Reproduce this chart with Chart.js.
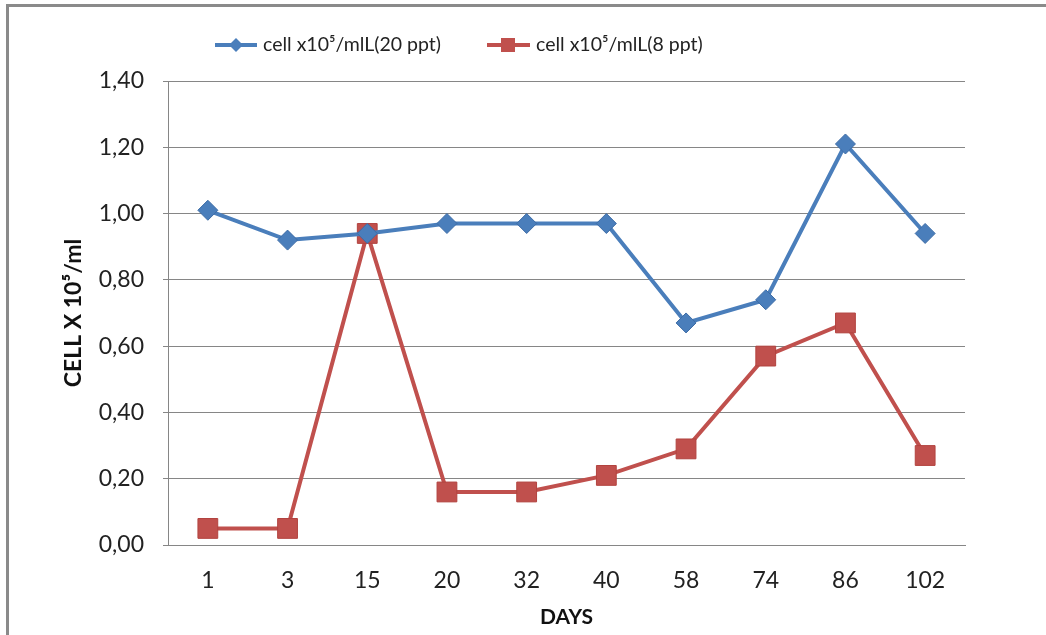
<!DOCTYPE html>
<html>
<head>
<meta charset="utf-8">
<script src="https://cdn.jsdelivr.net/npm/chart.js@4"></script>
<style>
  html, body { margin: 0; padding: 0; background: #fff; }
  #wrap { width: 1046px; height: 635px; }
</style>
</head>
<body>
<div id="wrap"><canvas id="chart" width="1046" height="635"></canvas></div>
<script>
// chart data
var days = ['1', '3', '15', '20', '32', '40', '58', '74', '86', '102'];
var cells20 = [1.01, 0.92, 0.94, 0.97, 0.97, 0.97, 0.67, 0.74, 1.21, 0.94];
var cells8 = [0.05, 0.05, 0.94, 0.16, 0.16, 0.21, 0.29, 0.57, 0.67, 0.27];
var seriesNames = ['cell x10\u2075/mlL(20 ppt)', 'cell x10\u2075/mlL(8 ppt)'];

var FONT = 'Lato, "Open Sans", sans-serif';
var BLUE = '#4a7ebb', BLUE_EDGE = '#3d6ca6';
var RED = '#c0504d', RED_EDGE = '#b2433f';

// frame + legend drawn by hand, excel style
var excelBits = {
  id: 'excelBits',
  afterDraw: function(chart) {
    var ctx = chart.ctx;
    ctx.save();
    ctx.strokeStyle = '#8a8a8a';
    ctx.lineWidth = 3;
    ctx.beginPath();
    ctx.moveTo(7.5, 635);
    ctx.lineTo(7.5, 5.5);
    ctx.lineTo(1046, 5.5);
    ctx.stroke();

    // legend
    var y = 45;
    ctx.font = '19.5px ' + FONT;
    ctx.fillStyle = '#222';
    ctx.textBaseline = 'middle';

    ctx.strokeStyle = BLUE; ctx.lineWidth = 4;
    ctx.beginPath(); ctx.moveTo(215, y); ctx.lineTo(257, y); ctx.stroke();
    ctx.fillStyle = BLUE;
    ctx.beginPath();
    ctx.moveTo(236, y - 7); ctx.lineTo(243, y); ctx.lineTo(236, y + 7); ctx.lineTo(229, y);
    ctx.closePath(); ctx.fill();
    ctx.fillStyle = '#222';
    ctx.fillText(seriesNames[0], 263, y);

    ctx.strokeStyle = RED;
    ctx.beginPath(); ctx.moveTo(487, y); ctx.lineTo(530, y); ctx.stroke();
    ctx.fillStyle = RED;
    ctx.fillRect(501, y - 7, 14, 14);
    ctx.fillStyle = '#222';
    ctx.fillText(seriesNames[1], 536, y);
    ctx.restore();
  }
};

var ctx = document.getElementById('chart').getContext('2d');
var myChart = new Chart(ctx, {
  type: 'line',
  data: {
    labels: days,
    datasets: [
      {
        label: seriesNames[0],
        data: cells20,
        borderColor: BLUE,
        borderWidth: 4,
        pointStyle: 'rectRot',
        pointRadius: 10,
        pointBackgroundColor: BLUE,
        pointBorderColor: BLUE_EDGE,
        pointBorderWidth: 1,
        tension: 0
      },
      {
        label: seriesNames[1],
        data: cells8,
        borderColor: RED,
        borderWidth: 4,
        pointStyle: 'rect',
        pointRadius: 14,
        pointBackgroundColor: RED,
        pointBorderColor: RED_EDGE,
        pointBorderWidth: 1,
        tension: 0
      }
    ]
  },
  options: {
    responsive: false,
    animation: false,
    layout: { padding: { left: 40, top: 81, right: 81, bottom: 0 } },
    plugins: {
      legend: { display: false },
      tooltip: { enabled: false }
    },
    scales: {
      x: {
        offset: true,
        grid: { display: false, drawTicks: false },
        border: { display: true, color: '#868686', width: 1 },
        ticks: { padding: 22, color: '#222', font: { family: FONT, size: 23 } },
        title: {
          display: true, text: 'DAYS', color: '#111',
          font: { family: FONT, size: 21, weight: 'bold' },
          padding: { top: 0, bottom: 5 }
        },
        afterFit: function(s) { s.height = 90; }
      },
      y: {
        min: 0, max: 1.4,
        ticks: {
          stepSize: 0.2, padding: 19, color: '#222',
          font: { family: FONT, size: 23 },
          callback: function(v) { return v.toFixed(2).replace('.', ','); }
        },
        grid: { color: '#868686', lineWidth: 1, tickLength: 5, drawTicks: true },
        border: { display: true, color: '#868686', width: 1 },
        title: {
          display: true, text: 'CELL X 10\u2075/ml', color: '#111',
          font: { family: FONT, size: 23, weight: 'bold' },
          padding: { top: 20, bottom: 0 }
        },
        afterFit: function(s) { s.width = 128; }
      }
    }
  },
  plugins: [excelBits]
});
</script>
</body>
</html>
